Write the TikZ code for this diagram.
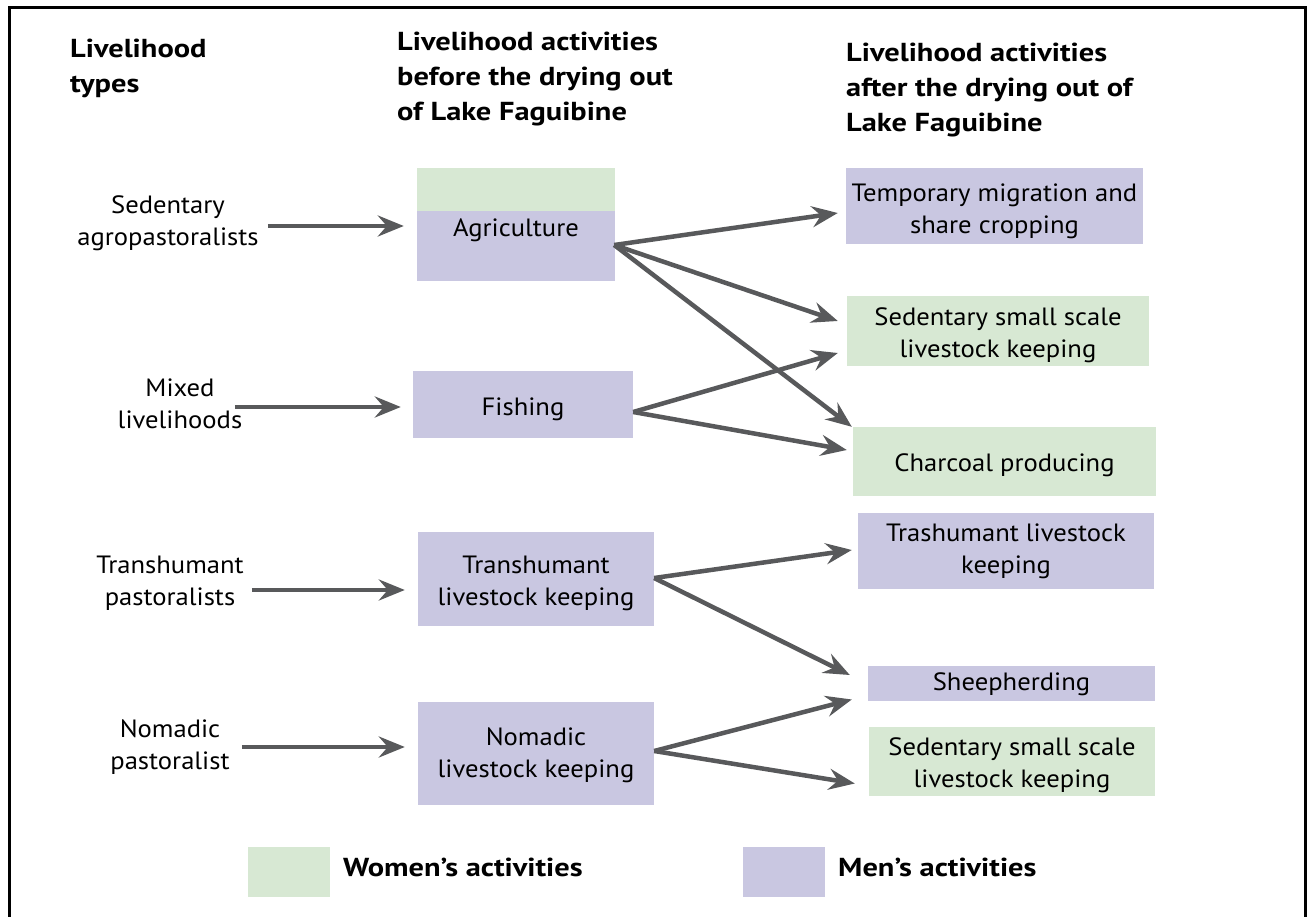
\documentclass[tikz,border=0pt]{standalone}
\usepackage{fontspec}
\setmainfont{PT Sans}[FakeStretch=1.065]
\newfontfamily\headfont{PT Sans}[FakeStretch=1.17]
\usetikzlibrary{arrows.meta,calc}
\definecolor{men}{RGB}{201,199,225}
\definecolor{women}{RGB}{215,232,211}
\definecolor{arrowgray}{RGB}{88,89,91}
\begin{document}
\begin{tikzpicture}[x=1pt,y=-1pt,
  body/.style={font=\fontsize{25}{32}\selectfont, align=center, inner sep=0pt},
  head/.style={font=\headfont\fontsize{26}{35}\selectfont\bfseries, align=left, anchor=west, inner sep=0pt},
  mbox/.style={fill=men, inner sep=0pt},
  wbox/.style={fill=women, inner sep=0pt},
  arr/.style={draw=arrowgray, line width=4.5pt, -{Stealth[length=26pt,width=21pt,inset=9pt]}},
  legtext/.style={font=\headfont\fontsize{26}{32}\selectfont\bfseries, anchor=west, inner sep=0pt}
]
\useasboundingbox (0,0) rectangle (1307,917);
\draw[line width=3pt] (9,930) -- (9,8) -- (1305,8) -- (1305,930);

% headers
\node[head] (h1) at (70,68) {Livelihood\\types};
\node[head] (h2) at (397,79.5) {Livelihood activities\\before the drying out\\of Lake Faguibine};
\node[head] (h3) at (846,90) {Livelihood activities\\after the drying out of\\Lake Faguibine};

% left labels
\node[body] (l1) at (168,223) {Sedentary\\agropastoralists};
\node[body] (l2) at (180,404) {Mixed\\livelihoods};
\node[body] (l3) at (170,583.5) {Transhumant\\pastoralists};
\node[body] (l4) at (170,747) {Nomadic\\pastoralist};

% before boxes
\node[mbox, minimum width=198pt, minimum height=113pt,
  path picture={\fill[women] (path picture bounding box.north west) rectangle ($(path picture bounding box.north east)+(0,43)$);}]
  (agri) at (516,224.5) {};
\node[body] (agriT) at ($(agri)+(0,6)$) {Agriculture};
\node[mbox, minimum width=220pt, minimum height=67pt] (fish) at (523,404.5) {};
\node[body] (fishT) at ($(fish)+(0,5)$) {Fishing};
\node[mbox, minimum width=236pt, minimum height=94pt] (trans) at (536,579) {};
\node[body] (transT) at ($(trans)+(0,4.5)$) {Transhumant\\livestock keeping};
\node[mbox, minimum width=236pt, minimum height=103pt] (nomad) at (536,753.5) {};
\node[body] (nomadT) at ($(nomad)+(0,1.5)$) {Nomadic\\livestock keeping};

% after boxes
\node[mbox, minimum width=297pt, minimum height=76pt] (tmp) at (994.5,206) {};
\node[body] (tmpT) at ($(tmp)+(0,5)$) {Temporary migration and\\share cropping};
\node[wbox, minimum width=302pt, minimum height=70pt] (sed1) at (998,331) {};
\node[body] (sed1T) at ($(sed1)+(0,4)$) {Sedentary small scale\\livestock keeping};
\node[wbox, minimum width=303pt, minimum height=69pt] (char) at (1004.5,461.5) {};
\node[body] (charT) at ($(char)+(0,4)$) {Charcoal producing};
\node[mbox, minimum width=296pt, minimum height=76pt] (trl) at (1006,551) {};
\node[body] (trlT) at ($(trl)+(0,0.5)$) {Trashumant livestock\\keeping};
\node[mbox, minimum width=287pt, minimum height=35pt] (sheep) at (1011.5,683.5) {};
\node[body] (sheepT) at ($(sheep)+(0,1)$) {Sheepherding};
\node[wbox, minimum width=286pt, minimum height=69pt] (sed2) at (1012,761.5) {};
\node[body] (sed2T) at ($(sed2)+(0,4)$) {Sedentary small scale\\livestock keeping};

% left arrows
\draw[arr] ($(agri.west)+(-149,1.5)$) -- ($(agri.west)+(-13,1.5)$);
\draw[arr] ($(fish.west)+(-178,2.5)$) -- ($(fish.west)+(-12,2.5)$);
\draw[arr] ($(trans.west)+(-166,11)$) -- ($(trans.west)+(-13,11)$);
\draw[arr] ($(nomad.west)+(-176,-6.5)$) -- ($(nomad.west)+(-13,-6.5)$);

% right arrows
\draw[arr] ($(agri.east)+(-1,20.5)$) -- ($(tmp.west)+(-8,7)$);
\draw[arr] ($(agri.east)+(-1,20.5)$) -- ($(sed1.west)+(-9,-10)$);
\draw[arr] ($(agri.east)+(-1,20.5)$) -- ($(char.north west)+(-1,0)$);
\draw[arr] ($(fish.east)+(0,7.5)$) -- ($(sed1.west)+(-9,22)$);
\draw[arr] ($(fish.east)+(0,7.5)$) -- ($(char.west)+(-6,-11.5)$);
\draw[arr] ($(trans.east)+(0,-1)$) -- ($(trl.west)+(-6,-1)$);
\draw[arr] ($(trans.east)+(0,-1)$) -- ($(sheep.west)+(-18,-8.5)$);
\draw[arr] ($(nomad.east)+(0,-2.5)$) -- ($(sheep.west)+(-16,16)$);
\draw[arr] ($(nomad.east)+(0,-2.5)$) -- ($(sed2.west)+(-14,22)$);

% legend
\node[wbox, minimum width=82pt, minimum height=50pt] (lw) at (289,872) {};
\node[legtext] (lwt) at (343,867) {Women’s activities};
\node[mbox, minimum width=82pt, minimum height=50pt] (lm) at (784,872) {};
\node[legtext] (lmt) at (838,867) {Men’s activities};
\end{tikzpicture}
\end{document}
